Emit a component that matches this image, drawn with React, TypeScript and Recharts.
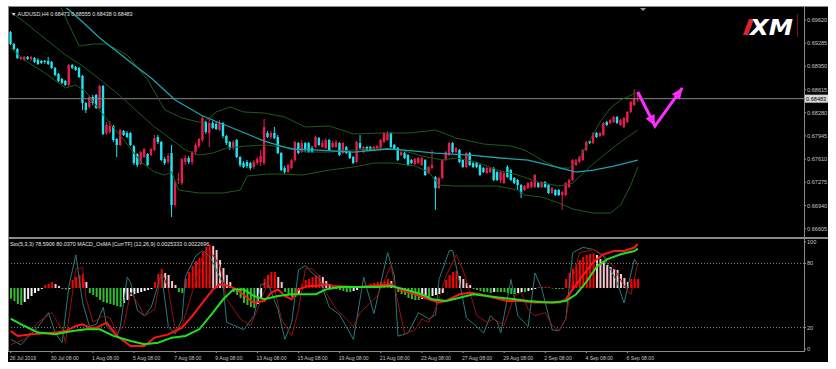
import React from 'react'
import { ComposedChart, Bar, Line, XAxis, YAxis, ReferenceLine, Cell } from 'recharts'

// AUDUSD H4 candles, 26 Jul 2019 08:00 .. 6 Sep 2019 20:00
const opens = [
  0.69447, 0.69273, 0.692, 0.69057, 0.69042, 0.69086, 0.69057, 0.6907, 0.69042, 0.69028,
  0.69028, 0.69028, 0.69013, 0.68927, 0.6884, 0.68768, 0.68739, 0.68681, 0.6897, 0.68941,
  0.68927, 0.68811, 0.68421, 0.68363, 0.68508, 0.68537, 0.68349, 0.68667, 0.67987, 0.68001,
  0.68088, 0.679, 0.67814, 0.68016, 0.67987, 0.67987, 0.67799, 0.67683, 0.67539, 0.6764,
  0.67683, 0.67669, 0.67741, 0.67929, 0.67857, 0.67611, 0.67568, 0.67698, 0.66947, 0.67308,
  0.67264, 0.67568, 0.67626, 0.67568, 0.67712, 0.67799, 0.67886, 0.68146, 0.67987, 0.68132,
  0.68117, 0.6803, 0.68132, 0.67944, 0.67857, 0.6777, 0.67886, 0.6764, 0.67553, 0.67568,
  0.67553, 0.67496, 0.67553, 0.67568, 0.67553, 0.67987, 0.67929, 0.67987, 0.67929, 0.67698,
  0.67481, 0.67423, 0.67481, 0.67597, 0.67842, 0.67712, 0.67842, 0.67842, 0.6777, 0.67785,
  0.67915, 0.67785, 0.6777, 0.67886, 0.67785, 0.67785, 0.67842, 0.67698, 0.67785, 0.67712,
  0.6764, 0.67568, 0.67842, 0.67712, 0.67785, 0.67785, 0.67741, 0.67756, 0.6777, 0.67857,
  0.67886, 0.67987, 0.67814, 0.6777, 0.67669, 0.67698, 0.67669, 0.67597, 0.67539, 0.67553,
  0.67524, 0.67597, 0.67409, 0.67481, 0.67351, 0.67192, 0.67337, 0.67597, 0.67669, 0.67842,
  0.67712, 0.67741, 0.67597, 0.67496, 0.67698, 0.67553, 0.67553, 0.67524, 0.67481, 0.67409,
  0.67423, 0.67481, 0.67423, 0.67308, 0.67264, 0.67496, 0.67452, 0.67337, 0.67308, 0.67236,
  0.67163, 0.67192, 0.67207, 0.67207, 0.67264, 0.67207, 0.67279, 0.67236, 0.6712, 0.67163,
  0.67163, 0.67091, 0.67091, 0.67207, 0.67308, 0.67524, 0.67568, 0.67597, 0.67741, 0.67871,
  0.67842, 0.67987, 0.67944, 0.67958, 0.68146, 0.68132, 0.68146, 0.68218, 0.68103, 0.68074,
  0.68146, 0.68291, 0.68392, 0.68473,
]
const highs = [
  0.69461, 0.69288, 0.69214, 0.691, 0.691, 0.691, 0.691, 0.69086, 0.6907, 0.69042,
  0.69042, 0.69086, 0.69028, 0.68941, 0.68854, 0.68782, 0.68753, 0.68984, 0.68984, 0.68956,
  0.68941, 0.68826, 0.68435, 0.68522, 0.68537, 0.68551, 0.68681, 0.68681, 0.68146, 0.68161,
  0.68103, 0.67915, 0.68045, 0.6803, 0.68016, 0.68001, 0.67814, 0.67698, 0.67727, 0.6777,
  0.67698, 0.6777, 0.67958, 0.67958, 0.67871, 0.6764, 0.67698, 0.67814, 0.67308, 0.67409,
  0.67626, 0.67669, 0.67655, 0.67727, 0.67842, 0.67915, 0.68233, 0.68161, 0.68204, 0.68161,
  0.68146, 0.68175, 0.68146, 0.67958, 0.67871, 0.67886, 0.679, 0.67655, 0.67582, 0.67597,
  0.67568, 0.67597, 0.6764, 0.67741, 0.68189, 0.68016, 0.68016, 0.68074, 0.67958, 0.67712,
  0.6751, 0.67539, 0.67611, 0.67871, 0.67857, 0.67886, 0.67857, 0.67857, 0.67799, 0.67944,
  0.67929, 0.67886, 0.67915, 0.679, 0.67871, 0.67886, 0.67857, 0.67857, 0.67799, 0.67727,
  0.67655, 0.67871, 0.67958, 0.67799, 0.67799, 0.67799, 0.67799, 0.67814, 0.679, 0.68001,
  0.68016, 0.68001, 0.67828, 0.67785, 0.67727, 0.67712, 0.67683, 0.67611, 0.67626, 0.6764,
  0.6764, 0.67611, 0.6751, 0.67741, 0.67366, 0.67351, 0.67611, 0.67727, 0.67857, 0.67857,
  0.67785, 0.67756, 0.67611, 0.67712, 0.67712, 0.67568, 0.67568, 0.67539, 0.67496, 0.67496,
  0.67496, 0.67496, 0.67438, 0.67438, 0.67423, 0.67524, 0.67467, 0.67351, 0.67322, 0.6725,
  0.67236, 0.67279, 0.67293, 0.67394, 0.67279, 0.67293, 0.67293, 0.6725, 0.67207, 0.67178,
  0.67178, 0.67149, 0.67279, 0.67322, 0.67611, 0.67611, 0.67655, 0.67756, 0.67871, 0.67886,
  0.68001, 0.68001, 0.68001, 0.68146, 0.68161, 0.68189, 0.68233, 0.68233, 0.68189, 0.68218,
  0.68305, 0.6845, 0.68623, 0.68555,
]
const lows = [
  0.69258, 0.69187, 0.69057, 0.69042, 0.69028, 0.69042, 0.69028, 0.68999, 0.6897, 0.68984,
  0.68984, 0.6897, 0.68912, 0.68811, 0.68724, 0.68695, 0.68667, 0.68652, 0.68912, 0.68883,
  0.68782, 0.6832, 0.68276, 0.68334, 0.68392, 0.68334, 0.68334, 0.67958, 0.67958, 0.67973,
  0.67857, 0.6764, 0.67799, 0.67944, 0.67915, 0.67799, 0.67524, 0.67496, 0.67524, 0.67626,
  0.6751, 0.67655, 0.67727, 0.67828, 0.67582, 0.67524, 0.67539, 0.66774, 0.66918, 0.6725,
  0.67236, 0.67524, 0.67539, 0.67524, 0.67669, 0.6777, 0.67857, 0.67973, 0.67785, 0.68045,
  0.6803, 0.68016, 0.67915, 0.67814, 0.67741, 0.67741, 0.67626, 0.67496, 0.67481, 0.67481,
  0.67452, 0.67467, 0.67524, 0.6751, 0.67524, 0.67915, 0.679, 0.679, 0.67683, 0.67438,
  0.67394, 0.67409, 0.67467, 0.67568, 0.67683, 0.67698, 0.67712, 0.67698, 0.67698, 0.6777,
  0.67799, 0.6777, 0.67756, 0.67727, 0.6777, 0.6777, 0.67655, 0.67683, 0.67683, 0.67611,
  0.67539, 0.67553, 0.67756, 0.67698, 0.67727, 0.67727, 0.67727, 0.67741, 0.67756, 0.67842,
  0.67871, 0.6777, 0.67741, 0.67582, 0.67655, 0.67611, 0.6751, 0.67539, 0.67524, 0.67539,
  0.6751, 0.67366, 0.67394, 0.67467, 0.66875, 0.67178, 0.67322, 0.67582, 0.67655, 0.67698,
  0.67698, 0.67553, 0.67481, 0.67481, 0.6751, 0.67481, 0.67481, 0.67366, 0.67409, 0.67394,
  0.67409, 0.67293, 0.67293, 0.67264, 0.6725, 0.67337, 0.67293, 0.6725, 0.67163, 0.67048,
  0.67149, 0.67178, 0.67192, 0.67192, 0.67192, 0.67192, 0.67192, 0.67106, 0.67106, 0.67077,
  0.67077, 0.66875, 0.67077, 0.67192, 0.67293, 0.6751, 0.67553, 0.67582, 0.67727, 0.67828,
  0.67828, 0.67915, 0.67929, 0.67944, 0.68088, 0.68117, 0.68132, 0.68117, 0.68088, 0.68059,
  0.68132, 0.68276, 0.68377, 0.68438,
]
const closes = [
  0.69273, 0.692, 0.6907, 0.69086, 0.69086, 0.69057, 0.69086, 0.69013, 0.68984, 0.68999,
  0.69013, 0.68984, 0.68927, 0.68826, 0.68739, 0.6871, 0.68681, 0.6897, 0.68927, 0.68898,
  0.68797, 0.68421, 0.6832, 0.68508, 0.68421, 0.68349, 0.68667, 0.67973, 0.68103, 0.68088,
  0.67886, 0.67814, 0.6803, 0.67958, 0.67929, 0.67814, 0.67553, 0.67524, 0.67712, 0.67756,
  0.67524, 0.67756, 0.67915, 0.67857, 0.67597, 0.67553, 0.67655, 0.66947, 0.67279, 0.67322,
  0.67611, 0.67626, 0.67568, 0.67712, 0.67814, 0.679, 0.68204, 0.68001, 0.68132, 0.68059,
  0.68045, 0.68132, 0.67944, 0.67842, 0.6777, 0.67857, 0.6764, 0.67524, 0.67496, 0.6751,
  0.67481, 0.67568, 0.67611, 0.67655, 0.68074, 0.67929, 0.67987, 0.67915, 0.67698, 0.67452,
  0.67423, 0.67524, 0.67597, 0.67857, 0.67698, 0.67842, 0.67741, 0.67712, 0.67712, 0.67929,
  0.67814, 0.67842, 0.67886, 0.67741, 0.67842, 0.67857, 0.67669, 0.67842, 0.67698, 0.67626,
  0.67553, 0.67857, 0.6777, 0.67785, 0.67741, 0.67741, 0.67785, 0.67799, 0.67886, 0.67987,
  0.67987, 0.67785, 0.67756, 0.67597, 0.67712, 0.67626, 0.67524, 0.67553, 0.67611, 0.67626,
  0.67626, 0.6738, 0.67496, 0.67524, 0.67192, 0.67337, 0.67597, 0.67712, 0.67842, 0.67712,
  0.6777, 0.67568, 0.67496, 0.67698, 0.67524, 0.67496, 0.67496, 0.6738, 0.67423, 0.67481,
  0.67481, 0.67308, 0.67308, 0.67423, 0.67409, 0.67351, 0.67308, 0.67264, 0.67236, 0.6712,
  0.67221, 0.67264, 0.67279, 0.6738, 0.67207, 0.67279, 0.67207, 0.6712, 0.67192, 0.67091,
  0.67091, 0.67134, 0.67264, 0.67308, 0.67597, 0.67597, 0.6764, 0.67741, 0.67857, 0.67842,
  0.67987, 0.67929, 0.67987, 0.68132, 0.68103, 0.68175, 0.68218, 0.68132, 0.68175, 0.68204,
  0.68291, 0.68435, 0.68493, 0.68483,
]

// indicator lines, [bar index, value]
const bbUpper: [number, number][] = [
  [0, 0.70126], [10, 0.69952], [14, 0.6988], [17, 0.69548], [20, 0.69244], [24, 0.69273], [28, 0.69273],
  [34, 0.69114], [40, 0.68753], [45, 0.6832], [50, 0.68204], [56, 0.68132], [60, 0.68291], [64, 0.68363],
  [68, 0.68291], [74, 0.68276], [80, 0.68218], [86, 0.68074], [93, 0.68088], [100, 0.67973], [108, 0.67987],
  [116, 0.67987], [124, 0.6803], [130, 0.67915], [138, 0.67828], [146, 0.67799], [150, 0.67741], [156, 0.67568],
  [160, 0.67481], [163, 0.67481], [166, 0.67626], [169, 0.67886], [172, 0.68146], [175, 0.68349], [178, 0.68464],
  [183, 0.6858],
]
const bbMiddle: [number, number][] = [
  [0, 0.69736], [4, 0.69591], [16, 0.69114], [21, 0.68956], [27, 0.68724], [32, 0.68522], [37, 0.68291],
  [42, 0.68074], [46, 0.67929], [51, 0.67741], [55, 0.67669], [59, 0.67698], [63, 0.6777], [69, 0.67799],
  [74, 0.67814], [82, 0.6777], [86, 0.67712], [93, 0.67712], [100, 0.67741], [108, 0.6777], [114, 0.67741],
  [120, 0.67655], [126, 0.67597], [130, 0.67626], [136, 0.67568], [142, 0.67452], [148, 0.6738], [154, 0.67279],
  [160, 0.67221], [164, 0.67264], [168, 0.67452], [172, 0.67626], [176, 0.67785], [180, 0.67929], [183, 0.6803],
]
const bbLower: [number, number][] = [
  [0, 0.69214], [4, 0.69042], [10, 0.68854], [16, 0.68638], [19, 0.68681], [22, 0.6858], [27, 0.68247],
  [33, 0.67886], [38, 0.67568], [42, 0.67423], [45, 0.6738], [47, 0.67423], [49, 0.67163], [55, 0.6712],
  [62, 0.6712], [67, 0.67163], [69, 0.67366], [75, 0.67394], [80, 0.67394], [85, 0.6738], [93, 0.67452],
  [100, 0.67496], [106, 0.67553], [112, 0.67553], [118, 0.6751], [122, 0.67423], [125, 0.67236], [130, 0.67221],
  [136, 0.67221], [142, 0.67221], [148, 0.67163], [150, 0.67091], [155, 0.67062], [160, 0.66976], [164, 0.66889],
  [170, 0.66832], [175, 0.66832], [178, 0.66947], [181, 0.67236], [183, 0.67496],
]
const maLine: [number, number][] = [
  [0, 0.70342], [10, 0.70053], [17, 0.69765], [21, 0.69591], [26, 0.69359], [36, 0.6897], [41, 0.68782],
  [48, 0.68464], [56, 0.68233], [64, 0.68074], [74, 0.67871], [82, 0.67756], [90, 0.67741], [100, 0.67712],
  [110, 0.67756], [115, 0.67741], [124, 0.67698], [134, 0.67669], [143, 0.67626], [151, 0.67597], [157, 0.67524],
  [165, 0.67423], [170, 0.67452], [176, 0.6751], [183, 0.67597],
]
const arrowPts: [number, number][] = [[183, 0.6858], [188, 0.68088], [196, 0.68638]]

// sub window
const stochMain: [number, number][] = [
  [0, 9], [3, 4], [8, 21], [11, 34], [13, 15], [15, 6], [17, 59], [19, 88], [21, 43], [23, 21], [25, 23],
  [27, 39], [28, 21], [31, 12], [32, 21], [34, 67], [35, 62], [37, 36], [39, 31], [41, 39], [43, 60], [44, 71],
  [46, 21], [48, 14], [50, 28], [51, 68], [54, 87], [56, 92], [58, 87], [59, 81], [62, 60], [63, 25], [66, 21],
  [68, 18], [71, 31], [73, 60], [75, 62], [78, 37], [80, 9], [82, 25], [84, 74], [86, 78], [88, 71], [90, 66],
  [93, 39], [96, 32], [100, 9], [103, 67], [106, 33], [110, 90], [112, 68], [113, 12], [116, 15], [119, 34],
  [122, 28], [124, 32], [125, 65], [128, 92], [129, 92], [131, 62], [133, 29], [136, 21], [138, 15], [140, 31],
  [142, 25], [143, 15], [146, 65], [148, 31], [151, 21], [153, 71], [155, 56], [158, 18], [160, 17], [162, 28],
  [164, 90], [167, 95], [170, 93], [173, 87], [177, 62], [179, 43], [182, 84], [183, 78.5906],
]
const stochSignal: [number, number][] = [
  [0, 4], [4, 9], [8, 25], [12, 34], [15, 18], [16, 6], [19, 75], [21, 76], [22, 47], [24, 25], [27, 31],
  [29, 29], [31, 15], [33, 22], [35, 53], [37, 43], [39, 31], [42, 37], [44, 73], [46, 56], [48, 18], [50, 22],
  [53, 53], [56, 87], [59, 88], [61, 78], [63, 47], [67, 28], [70, 22], [72, 37], [75, 62], [77, 56], [79, 28],
  [82, 12], [84, 37], [86, 75], [88, 75], [90, 68], [92, 53], [95, 37], [98, 28], [100, 21], [102, 34],
  [107, 50], [110, 71], [111, 78], [113, 43], [115, 14], [118, 18], [120, 28], [122, 25], [124, 37], [127, 68],
  [130, 88], [132, 74], [134, 53], [136, 31], [139, 25], [141, 28], [144, 22], [147, 50], [149, 53], [151, 37],
  [153, 31], [156, 34], [158, 22], [160, 17], [162, 28], [164, 65], [166, 90], [170, 93], [173, 88], [176, 76],
  [179, 59], [181, 51], [183, 80.037],
]
const macdMain: [number, number][] = [
  [0, -0.00248], [2, -0.00276], [6, -0.00267], [13, -0.00257], [16, -0.00248], [19, -0.00219], [21, -0.00209],
  [23, -0.00229], [25, -0.00229], [28, -0.002], [31, -0.00276], [35, -0.00334], [39, -0.00334], [42, -0.00286],
  [46, -0.00267], [50, -0.00229], [53, -0.00161], [56, -0.00084], [59, -0.00008], [61, 0.00021], [63, 0.00015],
  [66, -0.00008], [69, -0.00056], [71, -0.00084], [74, -0.00075], [76, -0.00027], [78, -0.00008], [80, -0.00046],
  [82, -0.00065], [84, -0.00008], [87, 0.00012], [89, 0.00012], [92, 0.00021], [94, 0.00012], [101, 0.00006],
  [105, 0.00012], [111, 0.00021], [114, -0.00013], [118, -0.00036], [122, -0.00065], [125, -0.00084],
  [127, -0.00075], [131, -0.00036], [134, -0.00027], [137, -0.00036], [141, -0.00056], [145, -0.00075],
  [149, -0.00075], [153, -0.00084], [160, -0.00084], [162, -0.00065], [164, -0.00008], [167, 0.00073],
  [170, 0.0015], [173, 0.00194], [176, 0.00213], [179, 0.00213], [182, 0.00233], [183, 0.0025333],
]
const macdSignal: [number, number][] = [
  [0, -0.00177], [4, -0.00219], [8, -0.00257], [13, -0.00267], [18, -0.00248], [22, -0.00238], [26, -0.00238],
  [30, -0.00276], [35, -0.00305], [39, -0.00324], [43, -0.00315], [47, -0.00286], [51, -0.00276], [55, -0.00238],
  [59, -0.00142], [62, -0.00065], [65, -0.00008], [68, -0.00008], [71, -0.00046], [74, -0.00065], [78, -0.00046],
  [82, -0.00036], [86, -0.00036], [89, -0.00036], [92, -0.00008], [96, 0.00006], [102, 0.00006], [107, 0.00006],
  [111, 0.00012], [115, -0.00008], [120, -0.00036], [123, -0.00065], [127, -0.00075], [131, -0.00056],
  [135, -0.00036], [139, -0.00046], [143, -0.00056], [147, -0.00065], [151, -0.00075], [155, -0.00081],
  [158, -0.00084], [162, -0.00075], [165, -0.00036], [168, 0.00035], [171, 0.00123], [174, 0.00165],
  [178, 0.00194], [182, 0.00213], [183, 0.0022696],
]
// OsMA histogram, points
const osma = [
  -64, -78, -96, -102, -84, -66, -48, -30, -18, -6, 18, 24, 36, 24, 12, -6, -9, -6, 48, 66,
  78, 84, 36, -30, -42, -54, -72, -84, -90, -96, -102, -108, -114, -90, -72, -48, -36, -30, -24, -18,
  -12, -6, 36, 84, 114, 90, 78, 42, 18, -24, -30, 54, 96, 132, 162, 180, 216, 246, 258, 252,
  228, 168, 120, 78, 36, -24, -42, -60, -90, -102, -114, -120, -96, -66, 54, 78, 96, 96, 66, 36,
  -24, -42, -54, -54, -36, 24, 48, 54, 66, 72, 78, 66, 42, 24, 6, -6, -12, -18, -24, -24,
  -18, -12, 0, 12, 18, 24, 30, 36, 36, 42, 54, 42, 12, -24, -36, -42, -60, -66, -72, -72,
  -66, -54, -54, -48, -42, -36, -30, 48, 78, 96, 102, 72, 54, 30, 18, -6, -12, -18, -24, -24,
  -30, -24, -24, -24, -24, -30, -36, -36, -30, -24, -24, -18, -12, -6, 6, 6, 6, 6, -3, -6,
  -6, -6, 54, 90, 114, 144, 168, 186, 198, 204, 207, 198, 174, 156, 138, 126, 114, 108, 84, 60,
  36, 54, 54, 54,
]

const priceTicks = [0.6962, 0.69285, 0.6895, 0.68615, 0.6828, 0.67945, 0.6761, 0.67275, 0.6694, 0.66605]
const lastPrice = 0.68483
const stoTicks = [0, 20, 80, 100]
const timeTickIdx = [0, 12, 24, 36, 48, 60, 72, 84, 96, 108, 120, 132, 144, 156, 168, 180]
const timeLabels = [
  '26 Jul 2019', '30 Jul 08:00', '1 Aug 08:00', '5 Aug 08:00', '7 Aug 08:00', '9 Aug 08:00',
  '13 Aug 08:00', '15 Aug 08:00', '19 Aug 08:00', '21 Aug 08:00', '23 Aug 08:00', '27 Aug 08:00',
  '29 Aug 08:00', '2 Sep 08:00', '4 Sep 08:00', '6 Sep 08:00',
]

const SLOTS = 232
const rows: any[] = Array.from({ length: SLOTS }, (_, i) => ({ i }))
opens.forEach((o, i) => Object.assign(rows[i], { o, h: highs[i], l: lows[i], c: closes[i], osma: osma[i] }))
const put = (key: string, pts: [number, number][]) => pts.forEach(([i, v]) => { rows[i][key] = v })
put('bbUp', bbUpper)
put('bbMid', bbMiddle)
put('bbLow', bbLower)
put('ma', maLine)
put('arrow', arrowPts)
put('stoM', stochMain)
put('stoS', stochSignal)
put('macd', macdMain)
put('sig', macdSignal)

const FONT = 'Liberation Sans, Arial, sans-serif'
const UP = '#ec1a4e'
const DOWN = '#19e6f2'
const BB = '#1d5a1d'
const PRICE_DOMAIN: [number, number] = [0.66485, 0.69793]
const PX_PER_BAR = 795 / SLOTS
const PX_PER_PRICE = 229 / (PRICE_DOMAIN[1] - PRICE_DOMAIN[0])

const Candle = (p: any) => {
  const d = p.payload
  if (!d || d.o == null) return <g />
  const top = Math.min(p.y, p.y + p.height)
  const hgt = Math.abs(p.height)
  const k = hgt / (d.h - d.l || 1e-9)
  const cx = p.x + p.width / 2
  const color = d.c >= d.o ? UP : DOWN
  const bTop = top + (d.h - Math.max(d.o, d.c)) * k
  const bBot = top + (d.h - Math.min(d.o, d.c)) * k
  return (
    <g>
      <line x1={cx} x2={cx} y1={top} y2={top + hgt} stroke={color} strokeWidth={1} />
      <rect x={cx - 1.2} y={bTop} width={2.4} height={Math.max(bBot - bTop, 0.9)} fill={color} />
    </g>
  )
}

const ArrowHead = (p: any) => {
  const n = arrowPts.findIndex(([i]) => i === p.payload?.i)
  if (n < 1 || p.cy == null) return <g key={p.index} />
  const [i0, v0] = arrowPts[n - 1]
  const [i1, v1] = arrowPts[n]
  const a = Math.atan2(-(v1 - v0) * PX_PER_PRICE, (i1 - i0) * PX_PER_BAR)
  const L = 11, w = 5
  const bx = p.cx - L * Math.cos(a), by = p.cy - L * Math.sin(a)
  const nx = -Math.sin(a) * w, ny = Math.cos(a) * w
  return (
    <polygon key={p.index}
      points={`${p.cx},${p.cy} ${bx + nx},${by + ny} ${bx - nx},${by - ny}`}
      fill="#ff2cff" />
  )
}

const PriceTick = (p: any) => {
  const v = p.payload.value
  if (v === lastPrice) {
    return (
      <g>
        <rect x={805} y={p.y - 4} width={23} height={8} fill="#d9d9d9" />
        <text x={806} y={p.y + 2} fontSize={5.6} fill="#000" fontFamily={FONT}>{v.toFixed(5)}</text>
      </g>
    )
  }
  return (
    <g>
      <line x1={804} x2={806} y1={p.y} y2={p.y} stroke="#9a9a9a" />
      <text x={807} y={p.y + 2} fontSize={5.6} fill="#c4c4c4" fontFamily={FONT}>{v.toFixed(5)}</text>
    </g>
  )
}

const StoTick = (p: any) => (
  <g>
    <line x1={804} x2={806} y1={p.y} y2={p.y} stroke="#9a9a9a" />
    <text x={807} y={p.y + 2} fontSize={5.6} fill="#c4c4c4" fontFamily={FONT}>{p.payload.value}</text>
  </g>
)

const TimeTick = (p: any) => {
  const k = timeTickIdx.indexOf(p.payload.value)
  if (k < 0) return <g />
  return (
    <g>
      <line x1={p.x} x2={p.x} y1={p.y} y2={p.y + 2} stroke="#9a9a9a" />
      <text x={p.x - 1} y={p.y + 8.5} fontSize={5.1} fill="#c4c4c4" fontFamily={FONT}>{timeLabels[k]}</text>
    </g>
  )
}

const osmaColor = (i: number) => {
  const v = osma[i]
  if (v == null) return 'transparent'
  const prev = i > 0 ? osma[i - 1] : v
  if (v >= 0) return v >= prev ? '#ff0000' : '#f7c4cc'
  return v <= prev ? '#2ebd2e' : '#f2f2f2'
}

export default function App() {
  return (
    <div style={{ position: 'fixed', left: 0, top: 0, width: 836, height: 369, background: '#fff', overflow: 'hidden' }}>
      <svg width={836} height={369} style={{ position: 'absolute', left: 0, top: 0 }}>
        <rect x={8} y={6} width={820} height={356} fill="#000" />
      </svg>

      <div style={{ position: 'absolute', left: 0, top: 0 }}>
        <ComposedChart width={836} height={240} data={rows} margin={{ top: 8, right: 0, bottom: 3, left: 9 }}>
          <XAxis dataKey="i" type="category" hide />
          <YAxis orientation="right" width={32} domain={PRICE_DOMAIN} allowDataOverflow
            ticks={[...priceTicks, lastPrice]} interval={0} tick={<PriceTick />}
            axisLine={false} tickLine={false} tickSize={0} />
          <ReferenceLine y={lastPrice} stroke="#858585" strokeWidth={1} />
          <Bar dataKey={(d: any) => (d.o == null ? null : [d.l, d.h])} barSize={3} shape={<Candle />} isAnimationActive={false} />
          <Line dataKey="bbUp" stroke={BB} strokeWidth={1} dot={false} connectNulls isAnimationActive={false} />
          <Line dataKey="bbMid" stroke={BB} strokeWidth={1} dot={false} connectNulls isAnimationActive={false} />
          <Line dataKey="bbLow" stroke={BB} strokeWidth={1} dot={false} connectNulls isAnimationActive={false} />
          <Line dataKey="ma" stroke="#1aa3ad" strokeWidth={1.3} dot={false} connectNulls isAnimationActive={false} />
          <Line dataKey="arrow" stroke="#ff2cff" strokeWidth={3} dot={<ArrowHead />} connectNulls isAnimationActive={false} />
        </ComposedChart>
      </div>

      <div style={{ position: 'absolute', left: 0, top: 239 }}>
        <ComposedChart width={836} height={123} data={rows} margin={{ top: 0, right: 0, bottom: 0, left: 9 }} barGap={0}>
          <XAxis dataKey="i" type="category" height={11} ticks={timeTickIdx} interval={0}
            tick={<TimeTick />} axisLine={false} tickLine={false} tickSize={0} tickMargin={0} />
          <YAxis yAxisId="sto" orientation="right" width={32} domain={[-1.87, 102.8]} allowDataOverflow
            ticks={stoTicks} interval={0} tick={<StoTick />} axisLine={false} tickLine={false} tickSize={0} />
          <YAxis yAxisId="macd" orientation="right" hide domain={[-0.003629, 0.002822]} allowDataOverflow />
          <YAxis yAxisId="osma" orientation="right" hide domain={[-378, 294]} allowDataOverflow />
          <ReferenceLine yAxisId="sto" y={80} stroke="#8c8c8c" strokeDasharray="1 2" />
          <ReferenceLine yAxisId="sto" y={20} stroke="#8c8c8c" strokeDasharray="1 2" />
          <Bar yAxisId="osma" dataKey="osma" barSize={2} isAnimationActive={false}>
            {rows.map((r) => <Cell key={r.i} fill={osmaColor(r.i)} />)}
          </Bar>
          <Line yAxisId="sto" dataKey="stoM" stroke="#277a7a" strokeWidth={1} dot={false} connectNulls isAnimationActive={false} />
          <Line yAxisId="sto" dataKey="stoS" stroke="#9a1010" strokeWidth={1} dot={false} connectNulls isAnimationActive={false} />
          <Line yAxisId="macd" dataKey="macd" stroke="#ff1515" strokeWidth={2} dot={false} connectNulls isAnimationActive={false} />
          <Line yAxisId="macd" dataKey="sig" stroke="#1fe01f" strokeWidth={2} dot={false} connectNulls isAnimationActive={false} />
        </ComposedChart>
      </div>

      <svg width={836} height={369} style={{ position: 'absolute', left: 0, top: 0, pointerEvents: 'none' }}>
        <line x1={8} x2={828} y1={6.5} y2={6.5} stroke="#8a8a8a" />
        <line x1={8.5} x2={8.5} y1={6} y2={352} stroke="#8a8a8a" />
        <line x1={804.5} x2={804.5} y1={7} y2={352} stroke="#8a8a8a" />
        <rect x={8} y={237} width={820} height={2} fill="#8a8a8a" />
        <line x1={8} x2={805} y1={351.5} y2={351.5} stroke="#8a8a8a" />
        <polygon points="640,8 646,8 643,11" fill="#9a9a9a" />
        <text x={11} y={15.5} fontSize={5.4} fill="#e4e4e4" fontFamily={FONT}>▼ AUDUSD,H4  0.68473 0.68555 0.68438 0.68483</text>
        <text x={10} y={245.5} fontSize={5.4} fill="#e4e4e4" fontFamily={FONT}>Sto(5,3,3) 78.5906 80.0370  MACD_OsMA [CurrTF] (12,26,9) 0.0025333 0.0022696</text>
        <polygon points="743,35 749,19 754,19 748,35" fill="#e0202a" />
        <text x={750} y={34.5} fontSize={21} fontWeight={900} fontStyle="italic" fill="#ffffff" fontFamily="DejaVu Sans, sans-serif" textLength={43} lengthAdjust="spacingAndGlyphs">XM</text>
        <line x1={797.5} x2={797.5} y1={14} y2={37} stroke="#7a1010" />
      </svg>
    </div>
  )
}
